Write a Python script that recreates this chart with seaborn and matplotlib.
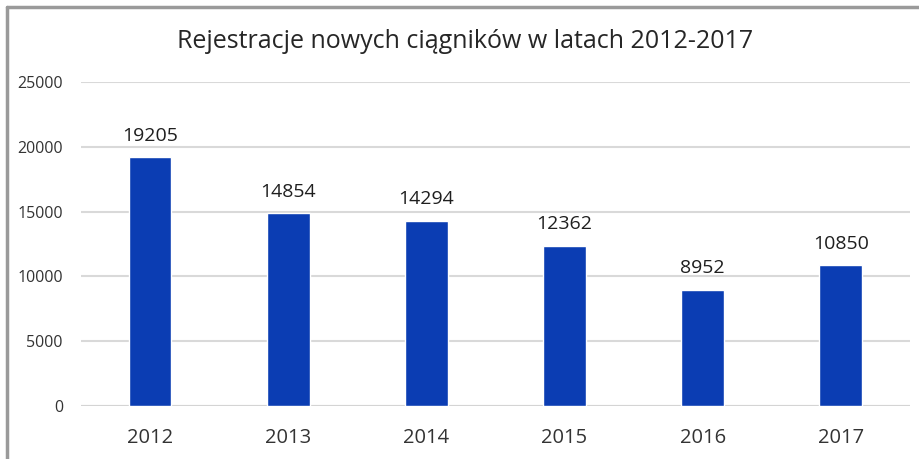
import matplotlib
matplotlib.use("Agg")
import matplotlib.pyplot as plt
import seaborn as sns
import pandas as pd
from matplotlib.lines import Line2D

years = ["2012", "2013", "2014", "2015", "2016", "2017"]
registrations = [19205, 14854, 14294, 12362, 8952, 10850]
y_ticks = [0, 5000, 10000, 15000, 20000, 25000]
title = "Rejestracje nowych ciągników w latach 2012-2017"

sns.set_theme(style="white")
plt.rcParams['font.family'] = ['Open Sans', 'DejaVu Sans']

df = pd.DataFrame({"year": years, "value": registrations})

fig = plt.figure(figsize=(9.2, 4.59), dpi=100)
ax = fig.add_axes([0.088, 0.1155, 0.901, 0.7059])

sns.barplot(data=df, x="year", y="value", color="#0B3DB3", saturation=1,
            width=0.31, ax=ax, zorder=3)

ax.set_ylim(0, 25000)
ax.set_xlim(-0.5, len(years) - 0.5)
ax.set_yticks(y_ticks)
ax.set_yticklabels([str(t) for t in y_ticks])
ax.yaxis.grid(True, color="#D9D9D9", linewidth=1.5, zorder=0)
ax.xaxis.grid(False)
for s in ax.spines.values():
    s.set_visible(False)
ax.axhline(0, color="#D4D4D4", linewidth=1.5, zorder=2)

ax.tick_params(axis="y", labelsize=11.5, colors="#333333", pad=13, length=0)
ax.tick_params(axis="x", labelsize=14.5, colors="#333333", pad=16, length=0)
ax.set_xlabel("")
ax.set_ylabel("")

for i, v in enumerate(registrations):
    ax.annotate(str(v), (i, v), xytext=(0, 9), textcoords="offset points",
                ha="center", va="bottom", fontsize=14, color="#1f1f1f")

fig.text(0.506, 0.91, title, ha="center", va="center", fontsize=18, color="#262626")

# partial frame (top and left)
fig.add_artist(Line2D([7/920, 1.0], [1 - 7/459, 1 - 7/459], color="#9A9A9A", linewidth=2.5,
                      transform=fig.transFigure))
fig.add_artist(Line2D([7/920, 7/920], [0, 1 - 7/459], color="#9A9A9A", linewidth=2.5,
                      transform=fig.transFigure))

fig.savefig("out.png", dpi=100)
